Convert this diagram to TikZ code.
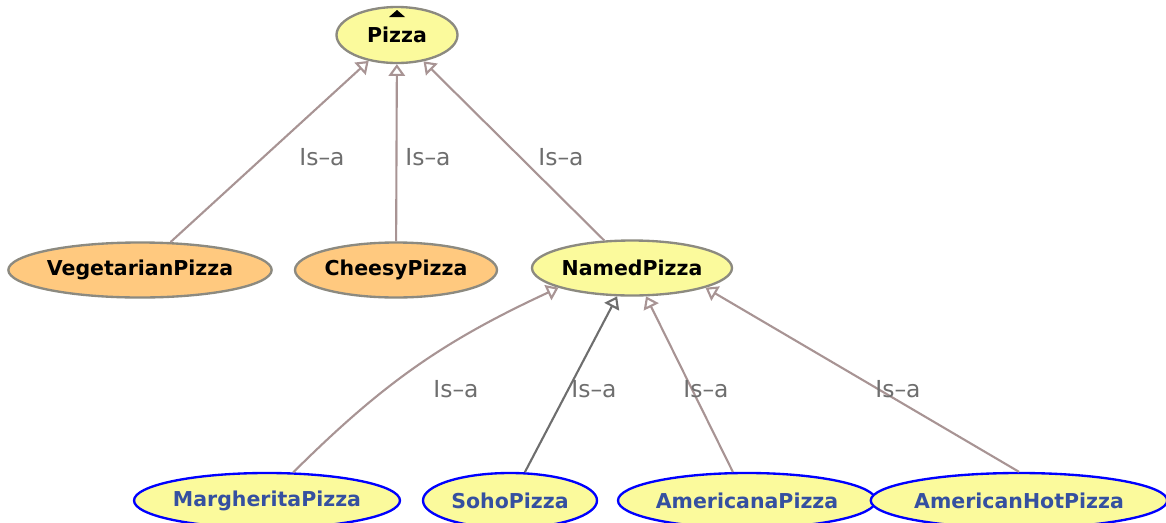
\documentclass[tikz,border=0pt]{standalone}
\usepackage{fontspec}
\setmainfont{DejaVu Sans}
\usetikzlibrary{shapes.geometric,arrows.meta}
\definecolor{clsyellow}{HTML}{FBFA9C}
\definecolor{clsorange}{HTML}{FFC97F}
\definecolor{clsborder}{HTML}{8C8A80}
\definecolor{isaline}{HTML}{A89494}
\definecolor{isatext}{HTML}{6E6E6E}
\definecolor{indtext}{HTML}{3550A0}
\begin{document}
\begin{tikzpicture}[x=0.03cm,y=-0.03cm,
    cls/.style={ellipse,draw=clsborder,line width=2pt,inner sep=0pt,
        minimum height=1.65cm,font=\fontsize{17.5}{20}\selectfont\bfseries},
    top/.style={cls,fill=clsyellow},
    veg/.style={cls,fill=clsorange},
    leaf/.style={cls,fill=clsyellow,draw=blue,text=indtext},
    isa/.style={-{Triangle[open,length=10pt,width=14pt]},line width=1.8pt,
        draw=isaline},
    lbl/.style={text=isatext,font=\fontsize{20}{22}\selectfont}]
    \useasboundingbox (0,0) rectangle (1166,522);

    \node[top,minimum width=3.63cm,minimum height=1.68cm] (pizza) at (397,35) {Pizza};
    \fill (389,17) -- (405,17) -- (397,10) -- cycle;

    \node[veg,minimum width=7.5cm] (vegetarian) at (140,270) {VegetarianPizza};
    \node[veg,minimum width=6.06cm] (cheesy) at (396,270) {CheesyPizza};
    \node[top,minimum width=6cm] (named) at (632,268) {NamedPizza};

    \node[leaf,minimum width=7.47cm] (margherita) at (267,500.5) {MargheritaPizza};
    \node[leaf,minimum width=5.22cm] (soho) at (510,500.5) {SohoPizza};
    \node[leaf,minimum width=7.11cm] (americana) at (747,500.5) {AmericanaPizza};
    \node[leaf,minimum width=7.41cm] (americanhot) at (1019,500.5) {AmericanHotPizza};

    \draw[isa] (vegetarian) to (pizza);
    \draw[isa] (cheesy) to (pizza);
    \draw[isa] (named) to (pizza);
    \draw[isa] (margherita.47) to[bend left=10] (named.-165);
    \draw[isa,draw=isatext] (soho) to (named);
    \draw[isa] (americana) to (named);
    \draw[isa] (americanhot.north) to (named.-15);

    \node[lbl] (isa1) at (322,157) {Is--a};
    \node[lbl] (isa2) at (428,157) {Is--a};
    \node[lbl] (isa3) at (561,157) {Is--a};
    \node[lbl] (isa4) at (456,389) {Is--a};
    \node[lbl] (isa5) at (594,389) {Is--a};
    \node[lbl] (isa6) at (706,389) {Is--a};
    \node[lbl] (isa7) at (898,389) {Is--a};
  \end{tikzpicture}
\end{document}
